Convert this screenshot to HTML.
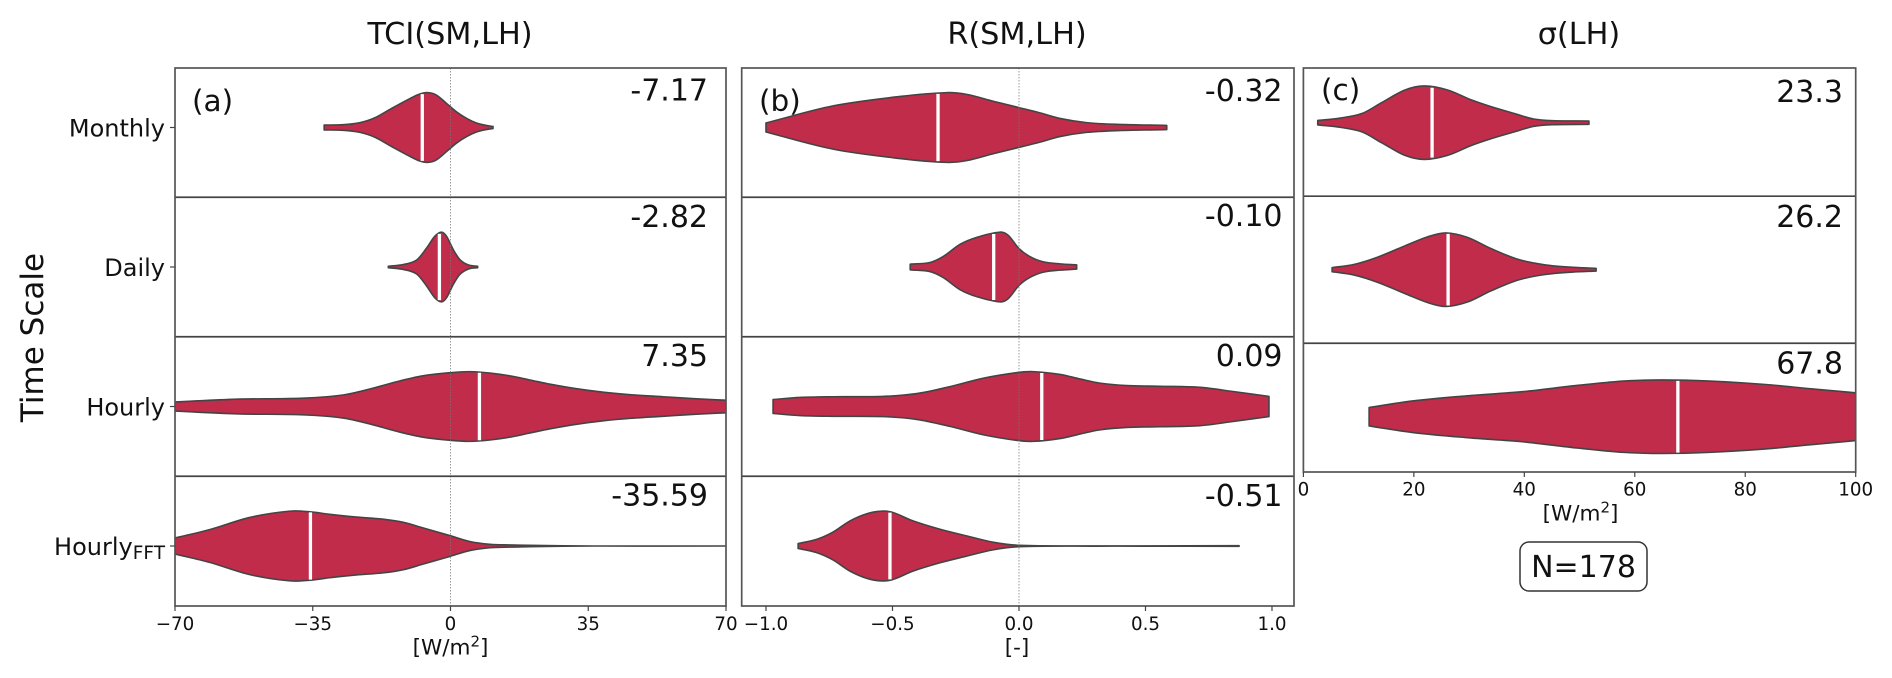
<!DOCTYPE html>
<html>
<head>
<meta charset="utf-8">
<title>Violin plots of TCI, R and sigma by time scale</title>
<style>
html,body{margin:0;padding:0;background:#fff;width:1892px;height:678px;overflow:hidden}
svg{display:block}
text{font-family:"DejaVu Sans","Liberation Sans",sans-serif;fill:#111}
</style>
</head>
<body>
<svg id="chart" xmlns="http://www.w3.org/2000/svg" width="1892" height="678" viewBox="0 0 1892 678">
  <text x="450" y="44" font-size="30.3" text-anchor="middle">TCI(SM,LH)</text>
  <text x="1017" y="44" font-size="30.3" text-anchor="middle">R(SM,LH)</text>
  <text x="1579" y="44" font-size="30.3" text-anchor="middle">σ(LH)</text>
  <text transform="translate(43,337.5) rotate(-90)" font-size="31" text-anchor="middle">Time Scale</text>
  <text x="450.5" y="654.5" font-size="21.5" text-anchor="middle">[W/m<tspan font-size="15" dy="-8">2</tspan><tspan dy="8">]</tspan></text>
  <text x="1017" y="654.5" font-size="21.5" text-anchor="middle">[-]</text>
  <text x="1580.5" y="520.5" font-size="21.5" text-anchor="middle">[W/m<tspan font-size="15" dy="-8">2</tspan><tspan dy="8">]</tspan></text>
  <text x="192" y="111" font-size="29.5">(a)</text>
  <text x="759" y="111" font-size="29.5">(b)</text>
  <text x="1321" y="100" font-size="29.5">(c)</text>
  <rect x="1520" y="542" width="127" height="49" rx="9" fill="#fff" stroke="#333" stroke-width="1.5"/>
  <text x="1583.5" y="577" font-size="30" text-anchor="middle">N=178</text>
  <g id="plots"></g>
</svg>
<script>
const categories = ['Monthly', 'Daily', 'Hourly', 'HourlyFFT'];

const tciTicks = [-70, -35, 0, 35, 70];
const rTicks = [-1.0, -0.5, 0.0, 0.5, 1.0];
const sigmaTicks = [0, 20, 40, 60, 80, 100];

const tciMedians = [-7.17, -2.82, 7.35, -35.59];
const rMedians = [-0.32, -0.10, 0.09, -0.51];
const sigmaMedians = [23.3, 26.2, 67.8];

const tciLabels = ['-7.17', '-2.82', '7.35', '-35.59'];
const rLabels = ['-0.32', '-0.10', '0.09', '-0.51'];
const sigmaLabels = ['23.3', '26.2', '67.8'];

const tciMonthlyV = [-32.1, -27.3, -23, -19.2, -14.6, -10.3, -7.8, -5.7, -3.6, -1, 1.5, 4.1, 6.6, 9.1, 10.8];
const tciMonthlyD = [0.07, 0.08, 0.14, 0.28, 0.57, 0.83, 0.96, 1.0, 0.93, 0.69, 0.45, 0.26, 0.13, 0.06, 0.03];
const tciDailyV = [-15.8, -12, -8.6, -6.1, -4, -2.3, -1, 0.7, 2.4, 4.5, 6.9];
const tciDailyD = [0.02, 0.07, 0.2, 0.54, 0.88, 1.0, 0.88, 0.5, 0.21, 0.06, 0.02];
const tciHourlyV = [-70, -54.4, -37.4, -27.3, -20.5, -13.7, -7, 0, 4.9, 10, 15, 20.2, 25.3, 32, 38.8, 45.6, 54, 62.5, 70];
const tciHourlyD = [0.13, 0.21, 0.24, 0.33, 0.50, 0.71, 0.88, 0.97, 1.0, 0.96, 0.88, 0.76, 0.64, 0.51, 0.41, 0.34, 0.28, 0.22, 0.18];
const tciFftV = [-70, -61.2, -51, -40.8, -35.7, -30.7, -23.9, -17.1, -12, -7, -0.2, 4.9, 10, 15, 20, 28.6, 37, 70];
const tciFftD = [0.23, 0.47, 0.82, 1.0, 0.98, 0.91, 0.83, 0.77, 0.68, 0.52, 0.30, 0.13, 0.05, 0.03, 0.02, 0.005, 0, 0];

const rMonthlyV = [-1.0, -0.735, -0.47, -0.286, -0.207, -0.10, 0, 0.083, 0.162, 0.267, 0.386, 0.584];
const rMonthlyD = [0.13, 0.62, 0.89, 1.0, 0.95, 0.75, 0.57, 0.42, 0.26, 0.14, 0.09, 0.06];
const rDailyV = [-0.43, -0.352, -0.30, -0.233, -0.167, -0.075, -0.043, 0, 0.043, 0.095, 0.162, 0.228];
const rDailyD = [0.08, 0.13, 0.30, 0.65, 0.85, 1.0, 0.91, 0.53, 0.30, 0.15, 0.09, 0.06];
const rHourlyV = [-0.972, -0.866, -0.735, -0.537, -0.404, -0.273, -0.142, -0.01, 0.055, 0.162, 0.241, 0.32, 0.426, 0.557, 0.715, 0.846, 0.988];
const rHourlyD = [0.20, 0.26, 0.28, 0.29, 0.37, 0.57, 0.81, 0.97, 1.0, 0.92, 0.79, 0.67, 0.60, 0.58, 0.55, 0.43, 0.29];
const rFftV = [-0.873, -0.80, -0.735, -0.668, -0.60, -0.543, -0.498, -0.419, -0.312, -0.207, -0.103, 0, 0.3, 0.87];
const rFftD = [0.07, 0.19, 0.40, 0.72, 0.93, 1.0, 0.96, 0.72, 0.48, 0.29, 0.11, 0.02, 0.004, 0.008];

const sigmaMonthlyV = [2.6, 6.4, 10.6, 14.1, 18.4, 21.9, 26.1, 30.4, 33.9, 38.2, 41.7, 45.2, 51.7];
const sigmaMonthlyD = [0.06, 0.12, 0.25, 0.54, 0.89, 1.0, 0.89, 0.62, 0.44, 0.25, 0.10, 0.055, 0.045];
const sigmaDailyV = [5.2, 9.2, 13.4, 18.4, 22.6, 25.8, 29.7, 33.9, 38.9, 43.8, 48.8, 53];
const sigmaDailyD = [0.055, 0.145, 0.34, 0.65, 0.90, 1.0, 0.88, 0.58, 0.28, 0.13, 0.064, 0.036];
const sigmaHourlyV = [11.9, 19.8, 29.7, 39.6, 49.5, 58, 65, 73.5, 83.4, 91.9, 100];
const sigmaHourlyD = [0.25, 0.43, 0.57, 0.68, 0.85, 0.97, 1.0, 0.97, 0.88, 0.76, 0.65];

const panels = [
  { id: 'tci', left: 175, right: 726, top: 68, bottom: 606, xDomain: [-70, 70], yDomain: [-0.4265, 3.43],
    ticks: tciTicks, decimals: 0, medians: tciMedians, labels: tciLabels, labelRight: 708, labelY: [89.5, 216, 355, 494.5],
    zero: true, showCategories: true, tickTextY: 623.5,
    violins: [[tciMonthlyV, tciMonthlyD], [tciDailyV, tciDailyD], [tciHourlyV, tciHourlyD], [tciFftV, tciFftD]] },
  { id: 'r', left: 741.7, right: 1294, top: 68, bottom: 606, xDomain: [-1.096, 1.087], yDomain: [-0.4265, 3.43],
    ticks: rTicks, decimals: 1, medians: rMedians, labels: rLabels, labelRight: 1282.5, labelY: [90, 215, 355, 495],
    zero: true, showCategories: false, tickTextY: 623.5,
    violins: [[rMonthlyV, rMonthlyD], [rDailyV, rDailyD], [rHourlyV, rHourlyD], [rFftV, rFftD]] },
  { id: 'sigma', left: 1303.4, right: 1855.7, top: 68, bottom: 472, xDomain: [0, 100], yDomain: [-0.372, 2.376],
    ticks: sigmaTicks, decimals: 0, medians: sigmaMedians, labels: sigmaLabels, labelRight: 1843, labelY: [91, 216, 362.5],
    zero: false, showCategories: false, tickTextY: 489,
    violins: [[sigmaMonthlyV, sigmaMonthlyD], [sigmaDailyV, sigmaDailyD], [sigmaHourlyV, sigmaHourlyD]] }
];

const SVG_NS = 'http://www.w3.org/2000/svg';
const root = document.getElementById('plots');
const VIOLIN_WIDTH = 0.5;

function make(tag, parent) {
  const node = document.createElementNS(SVG_NS, tag);
  parent.appendChild(node);
  return node;
}

function xAxis(p) {
  return v => p.left + (v - p.xDomain[0]) / (p.xDomain[1] - p.xDomain[0]) * (p.right - p.left);
}
function yAxis(p) {
  return i => p.top + (i - p.yDomain[0]) / (p.yDomain[1] - p.yDomain[0]) * (p.bottom - p.top);
}

function smooth(points, move) {
  const n = points.length;
  const slope = i => {
    const a = points[Math.max(i - 1, 0)];
    const b = points[Math.min(i + 1, n - 1)];
    return (b[1] - a[1]) / (b[0] - a[0]);
  };
  let d = (move ? 'M' : 'L') + points[0][0].toFixed(2) + ' ' + points[0][1].toFixed(2);
  for (let i = 0; i < n - 1; i++) {
    const p1 = points[i];
    const p2 = points[i + 1];
    const dx = (p2[0] - p1[0]) / 3;
    const c1x = p1[0] + dx;
    const c1y = p1[1] + slope(i) * dx;
    const c2x = p2[0] - dx;
    const c2y = p2[1] - slope(i + 1) * dx;
    d += 'C' + c1x.toFixed(2) + ' ' + c1y.toFixed(2) + ' ' + c2x.toFixed(2) + ' ' + c2y.toFixed(2) + ' ' + p2[0].toFixed(2) + ' ' + p2[1].toFixed(2);
  }
  return d;
}

function densityAt(vs, ds, v) {
  if (v <= vs[0]) return ds[0];
  for (let i = 1; i < vs.length; i++) {
    if (v <= vs[i]) {
      const t = (v - vs[i - 1]) / (vs[i] - vs[i - 1]);
      return ds[i - 1] + t * (ds[i] - ds[i - 1]);
    }
  }
  return ds[ds.length - 1];
}

panels.forEach(p => {
  const x = xAxis(p);
  const y = yAxis(p);
  const halfPx = (y(1) - y(0)) * VIOLIN_WIDTH / 2;

  const group = make('g', root);
  
  

  const clip = make('clipPath', group);
  clip.setAttribute('id', 'clip-' + p.id);
  const clipRect = make('rect', clip);
  clipRect.setAttribute('x', p.left);
  clipRect.setAttribute('y', p.top);
  clipRect.setAttribute('width', p.right - p.left);
  clipRect.setAttribute('height', p.bottom - p.top);

  const marks = make('g', group);
  marks.setAttribute('clip-path', 'url(#clip-' + p.id + ')');
  
  

  p.violins.forEach((pair, i) => {
    const vs = pair[0];
    const ds = pair[1];
    const cy = y(i);
    const upper = vs.map((v, k) => [x(v), cy - ds[k] * halfPx]);
    const lower = vs.map((v, k) => [x(v), cy + ds[k] * halfPx]).reverse();
    const shape = make('path', marks);
    
    
    shape.setAttribute('d', smooth(upper, true) + smooth(lower, false) + 'Z');
    shape.setAttribute('fill', '#c12c4b');
    shape.setAttribute('stroke', '#444');
    shape.setAttribute('stroke-width', '1.6');
    shape.setAttribute('stroke-linejoin', 'round');

    const med = p.medians[i];
    const medH = densityAt(vs, ds, med) * halfPx - 0.5;
    const medLine = make('line', marks);
    
    
    medLine.setAttribute('x1', x(med));
    medLine.setAttribute('x2', x(med));
    medLine.setAttribute('y1', cy - medH);
    medLine.setAttribute('y2', cy + medH);
    medLine.setAttribute('stroke', '#fff');
    medLine.setAttribute('stroke-width', '3.3');
  });

  if (p.zero) {
    const zero = make('line', marks);
    
    
    zero.setAttribute('x1', x(0));
    zero.setAttribute('x2', x(0));
    zero.setAttribute('y1', p.top);
    zero.setAttribute('y2', p.bottom);
    zero.setAttribute('stroke', '#777');
    zero.setAttribute('stroke-opacity', '0.75');
    zero.setAttribute('stroke-width', '1');
    zero.setAttribute('stroke-dasharray', '1.5 1.5');
  }

  p.violins.slice(1).forEach((pair, i) => {
    const sep = make('line', group);
    
    
    sep.setAttribute('x1', p.left);
    sep.setAttribute('x2', p.right);
    sep.setAttribute('y1', y(i + 0.5));
    sep.setAttribute('y2', y(i + 0.5));
    sep.setAttribute('stroke', '#444');
    sep.setAttribute('stroke-width', '1.7');
  });

  const frame = make('rect', group);
  
  
  frame.setAttribute('x', p.left);
  frame.setAttribute('y', p.top);
  frame.setAttribute('width', p.right - p.left);
  frame.setAttribute('height', p.bottom - p.top);
  frame.setAttribute('fill', 'none');
  frame.setAttribute('stroke', '#555');
  frame.setAttribute('stroke-width', '1.7');

  p.ticks.forEach(t => {
    const tick = make('line', group);
    
    
    tick.setAttribute('x1', x(t));
    tick.setAttribute('x2', x(t));
    tick.setAttribute('y1', p.bottom);
    tick.setAttribute('y2', p.bottom + 5);
    tick.setAttribute('stroke', '#444');
    tick.setAttribute('stroke-width', '1.2');

    const label = make('text', group);
    
    
    label.setAttribute('x', x(t));
    label.setAttribute('y', p.tickTextY + 6.6);
    label.setAttribute('font-size', '18.3');
    label.setAttribute('text-anchor', 'middle');
    label.textContent = t.toFixed(p.decimals).replace('-', '\u2212');
  });

  p.labels.forEach((txt, i) => {
    const value = make('text', group);
    
    
    value.setAttribute('x', p.labelRight);
    value.setAttribute('y', p.labelY[i] + 11);
    value.setAttribute('font-size', '30');
    value.setAttribute('text-anchor', 'end');
    value.textContent = txt;
  });

  if (p.showCategories) {
    categories.forEach((c, i) => {
      const tick = make('line', group);
      
      
      tick.setAttribute('x1', p.left - 5);
      tick.setAttribute('x2', p.left);
      tick.setAttribute('y1', y(i));
      tick.setAttribute('y2', y(i));
      tick.setAttribute('stroke', '#444');
      tick.setAttribute('stroke-width', '1.2');

      const label = make('text', group);
      
      
      label.setAttribute('x', p.left - 10);
      label.setAttribute('y', y(i) + 9);
      label.setAttribute('font-size', '24');
      label.setAttribute('text-anchor', 'end');
      if (c.endsWith('FFT')) {
        label.appendChild(document.createTextNode(c.slice(0, -3)));
        const sub = make('tspan', label);
        sub.setAttribute('font-size', '18.5');
        sub.setAttribute('dy', '4');
        sub.textContent = 'FFT';
      } else {
        label.textContent = c;
      }
    });
  }
});
</script>
</body>
</html>
